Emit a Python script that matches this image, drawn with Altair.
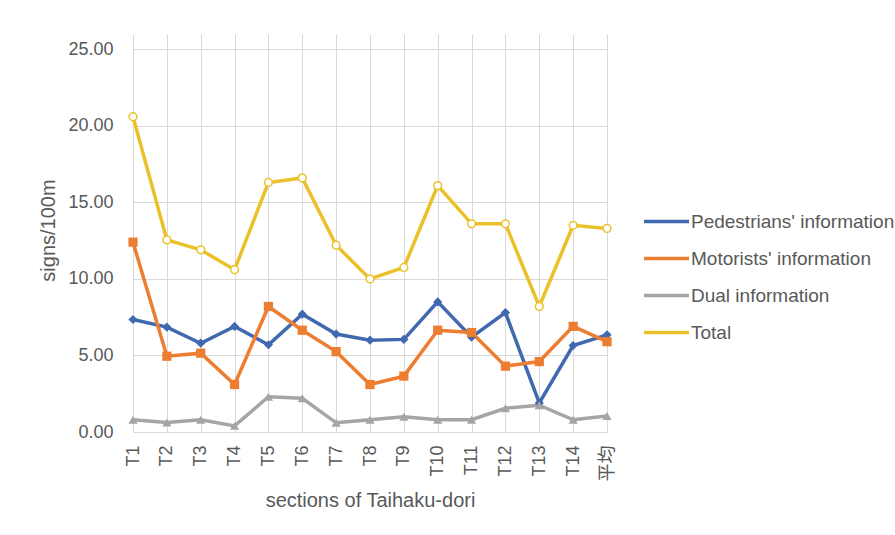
import altair as alt
import pandas as pd

categories = ["T1", "T2", "T3", "T4", "T5", "T6", "T7", "T8", "T9", "T10",
              "T11", "T12", "T13", "T14", "平均"]
series_names = ["Pedestrians' information", "Motorists' information",
                "Dual information", "Total"]
pedestrians = [7.35, 6.85, 5.80, 6.90, 5.70, 7.70, 6.40, 6.00, 6.05, 8.50,
               6.20, 7.80, 1.90, 5.65, 6.35]
motorists = [12.40, 4.95, 5.15, 3.10, 8.20, 6.65, 5.25, 3.10, 3.65, 6.65,
             6.50, 4.30, 4.60, 6.90, 5.90]
dual = [0.80, 0.62, 0.80, 0.40, 2.30, 2.20, 0.60, 0.80, 1.00, 0.80,
        0.80, 1.55, 1.75, 0.80, 1.05]
total = [20.60, 12.55, 11.90, 10.60, 16.30, 16.60, 12.20, 10.00, 10.75, 16.10,
         13.60, 13.60, 8.20, 13.50, 13.30]
colors = ["#4169B0", "#ED7D31", "#A5A5A5", "#EBC12A"]
shapes = ["diamond", "square", "triangle-up", "circle"]

rows = []
for name, vals in zip(series_names, [pedestrians, motorists, dual, total]):
    for i, (c, v) in enumerate(zip(categories, vals)):
        rows.append({"section": c, "value": v, "series": name,
                     "marker": name + " ", "idx": i})
df = pd.DataFrame(rows)
marker_names = [s + " " for s in series_names]

FONT = "Liberation Sans, 'Noto Sans CJK JP', Arial, sans-serif"
TXT = "#595959"

x_enc = alt.X("section:N", sort=categories,
              scale=alt.Scale(type="point", padding=0),
              axis=alt.Axis(title="sections of Taihaku-dori", labelAngle=-90,
                            labelPadding=13, ticks=False, domain=False,
                            grid=True, gridColor="#D9D9D9",
                            titleX=237, titleY=68, titleBaseline="middle",
                            titleAlign="center"))
y_enc = alt.Y("value:Q", scale=alt.Scale(domain=[0, 25]),
              axis=alt.Axis(title="signs/100m", format=".2f",
                            values=[0, 5, 10, 15, 20, 25],
                            labelPadding=20, ticks=False, domain=False,
                            grid=True, gridColor="#D9D9D9",
                            titleX=-85, titleY=196, titleBaseline="middle",
                            titleAlign="center", titleAngle=-90))
color_scale = alt.Scale(domain=series_names, range=colors)

lines = alt.Chart(df).mark_line(strokeWidth=3.5).encode(
    x=x_enc, y=y_enc,
    color=alt.Color("series:N", scale=color_scale, sort=series_names,
                    legend=alt.Legend(title=None, orient="none",
                                      legendX=509, legendY=163,
                                      symbolType="stroke",
                                      symbolStrokeWidth=3.5,
                                      symbolSize=2025, labelOffset=0,
                                      rowPadding=2, labelFontSize=19,
                                      labelColor=TXT, labelFont=FONT,
                                      labelLimit=400)),
    detail="series:N",
    order="idx:Q",
)

pts = alt.Chart(df).transform_filter(
    alt.datum.series != "Total"
).mark_point(filled=True, opacity=1, size=85).encode(
    x=alt.X("section:N", sort=categories),
    y="value:Q",
    color=alt.Color("marker:N", scale=alt.Scale(domain=marker_names, range=colors),
                    legend=None),
    shape=alt.Shape("marker:N", scale=alt.Scale(domain=marker_names, range=shapes),
                    legend=None),
)

tot_pts = alt.Chart(df).transform_filter(
    alt.datum.series == "Total"
).mark_point(filled=True, fill="white", stroke="#EBC12A", strokeWidth=1.5,
             opacity=1, size=60, shape="circle").encode(
    x=alt.X("section:N", sort=categories),
    y="value:Q",
)

chart = alt.layer(lines, pts, tot_pts).resolve_scale(
    color="independent", shape="independent"
).properties(
    width=474, height=398,
    autosize=alt.AutoSizeParams(type="none"),
    padding={"left": 133, "top": 34, "right": 288, "bottom": 103},
    background="white",
).configure_view(stroke="transparent").configure_axis(
    labelFont=FONT, titleFont=FONT, labelColor=TXT, titleColor=TXT,
    labelFontSize=18, titleFontSize=20, titleFontWeight="normal",
).configure_legend(labelFont=FONT)

chart.save("out.html", embed_options={"renderer": "svg", "actions": False})
